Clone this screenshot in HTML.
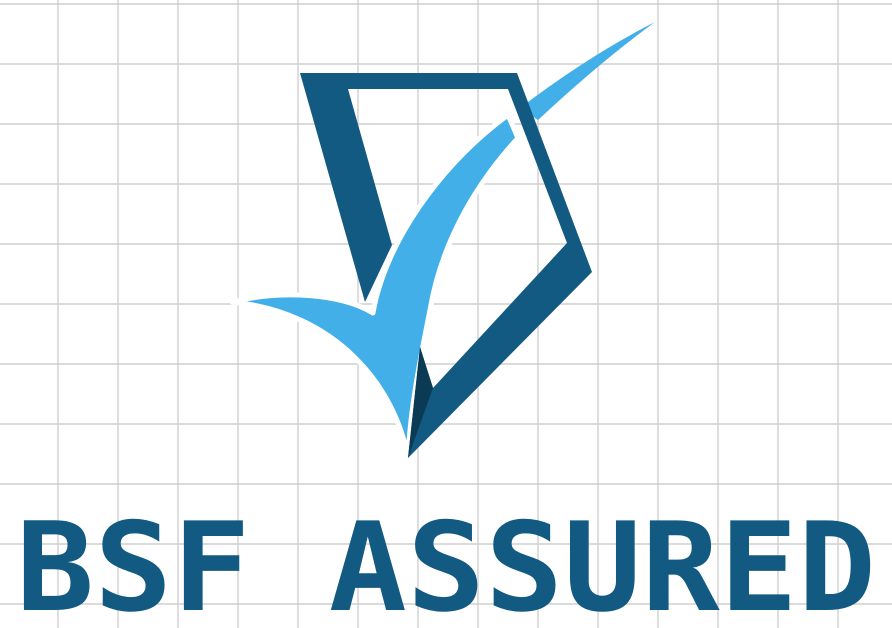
<!DOCTYPE html>
<html><head><meta charset="utf-8"><style>html,body{margin:0;padding:0;background:#fff}svg{display:block}</style></head>
<body>
<svg width="892" height="628" viewBox="0 0 892 628" xmlns="http://www.w3.org/2000/svg">
<g id="grid" stroke="#cfcfcf" stroke-width="1.4"></g>
<path fill="#135a82" d="M300,73 L517,73 L510,89 L348,89 L392,245 L365,302 Z"/>
<g fill="#42afe8">
<path d="M520,108 Q590,55 655,22 Q600,62 538,120 Z"/>
<path stroke="#fff" stroke-width="5" stroke-linejoin="round" d="M232,302 C280,290 340,293 373,313 C385,243 440,165 508,115 L518,138 C470,190 440,250 430,310 C420,360 410,410 408,458 C395,385 335,312 232,302 Z"/>
</g>
<path fill="#135a82" d="M500,73 L517,73 L592,272 L408,458 L420,347 L433,388 L567,243 L508,89 Z"/>
<path fill="#0b3a55" d="M420,347 L433,388 L408,458 Z"/>
<text x="16" y="610" font-family="DejaVu Sans Mono, Liberation Mono, monospace" font-weight="bold" font-size="123" fill="#135a82" textLength="860" lengthAdjust="spacingAndGlyphs">BSF ASSURED</text>
</svg>
<script>
const g=document.getElementById('grid');
for(let x=58;x<892;x+=60){const l=document.createElementNS('http://www.w3.org/2000/svg','line');


l.setAttribute('x1',x);l.setAttribute('x2',x);l.setAttribute('y1',0);l.setAttribute('y2',628);g.appendChild(l);}
for(let y=4;y<628;y+=60){const l=document.createElementNS('http://www.w3.org/2000/svg','line');


l.setAttribute('y1',y);l.setAttribute('y2',y);l.setAttribute('x1',0);l.setAttribute('x2',892);g.appendChild(l);}
</script>
</body></html>
